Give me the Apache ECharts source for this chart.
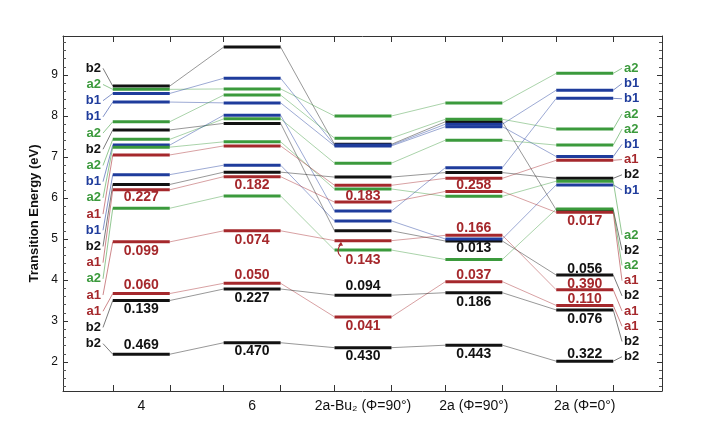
<!DOCTYPE html>
<html><head><meta charset="utf-8">
<script src="https://cdn.jsdelivr.net/npm/echarts@6/dist/echarts.min.js"></script>
<style>html,body{margin:0;padding:0;background:#fff}#c{width:725px;height:434px}</style>
</head><body><div id="c"></div>
<script>
// ---------- data ----------
const columns = ['4', '6', '2a-Bu₂ (Φ=90°)', '2a (Φ=90°)', '2a (Φ=0°)'];
const symmetry = ['b2','a2','b1','b1','a2','b2','a2','b1','a2','a1','b1','b2','a1','a2','a1','a1','b2','b2'];
const e4    = [8.73,8.65,8.55,8.34,7.86,7.66,7.43,7.29,7.24,7.05,6.57,6.33,6.20,5.75,4.93,3.67,3.50,2.19];
const e6    = [9.68,8.66,8.92,8.32,8.51,7.82,7.93,8.02,7.37,7.27,6.80,6.63,6.52,6.05,5.20,3.92,3.78,2.47];
const eBu2  = [7.31,8.00,7.29,7.27,7.46,5.20,6.85,5.68,6.22,6.31,5.44,6.51,5.90,4.73,4.96,3.10,3.63,2.35];
const e2a90 = [7.86,8.32,7.80,7.74,7.92,4.95,7.41,6.74,6.04,6.48,5.00,6.62,6.16,4.50,5.09,3.96,3.69,2.41];
const e2a0  = [5.71,9.04,8.63,7.01,7.68,4.12,7.29,8.43,6.41,6.92,6.32,6.48,5.65,5.73,3.76,3.38,3.27,2.02];
// oscillator strengths (state index -> value)
const f4    = {12:'0.227',14:'0.099',15:'0.060',16:'0.139',17:'0.469'};
const f6    = {12:'0.182',14:'0.074',15:'0.050',16:'0.227',17:'0.470'};
const fBu2  = {12:'0.183',14:'0.143',15:'0.041',16:'0.094',17:'0.430'};
const f2a90 = {12:'0.258',14:'0.166',5:'0.013',15:'0.037',16:'0.186',17:'0.443'};
const f2a0  = {12:'0.017',5:'0.056',14:'0.390',15:'0.110',16:'0.076',17:'0.322'};
const yTickLabels = [2,3,4,5,6,7,8,9];
const rightLabelOrder = [1,2,7,4,6,3,9,11,10, 8,0,13,12,5,14,15,16,17];

// ---------- layout / style ----------
const L = {
  hw: 0.257, xMin: 0.294, xMax: 5.697, yMin: 1.293, yMax: 9.951,
  leftLabelPx: 101, leftLeadPx: 103, rightLabelPx: 624, rightLeadPx: 622,
  leftTop: 9.163, leftStep: 0.395, rightTop: 9.163, rightBottom: 5.098, rightStep: 0.371,
  oscOffset: [
    {12:7,14:9,15:-8,16:9,17:-9},
    {12:8,14:9,15:-8,16:9,17:8},
    {12:-6,14:19,15:9,16:-9,17:8},
    {12:-6,14:-7,5:7,15:-7,16:9,17:9},
    {12:9,5:-6,14:-6,15:-6,16:9,17:-7}
  ]
};
const COLORS = {a1:'#a5282c', a2:'#3b9a3c', b1:'#1f3c9c', b2:'#121212'};
const FONT = '"Liberation Sans", Arial, Helvetica, sans-serif';
const energies = [e4, e6, eBu2, e2a90, e2a0];
const osc = [f4, f6, fBu2, f2a90, f2a0];
const drawOrder = {b2:0, a1:1, b1:2, a2:3};

// ---------- build series data ----------
const barData = [];
const connData = [];
for (let c = 0; c < 5; c++) {
  const idx = symmetry.map((s,i)=>i).sort((a,b)=>drawOrder[symmetry[a]]-drawOrder[symmetry[b]]);
  idx.forEach(s => barData.push([c+1, energies[c][s], s]));
  if (c < 4) symmetry.forEach((sym,s) => connData.push([c+1, energies[c][s], energies[c+1][s], s]));
}
const oscData = [];
osc.forEach((m,c) => Object.keys(m).forEach(k => oscData.push([c+1, energies[c][+k], +k, m[k]])));
const leftLabelData = symmetry.map((sym,s)=>[L.leftTop - s*L.leftStep, e4[s], s]);
const rightLabelData = rightLabelOrder.map((s,i)=>[
  i < 9 ? L.rightTop - i*L.rightStep : L.rightBottom - (i-9)*L.rightStep, e2a0[s], s]);

const xTicks = [];
for (let c = 1; c <= 5; c++) { xTicks.push(c - L.hw, c + L.hw); }
const minorTicks = [];
for (let v = 14; v <= 99; v += 2) { if (v % 10 !== 0) minorTicks.push(v/10); }

const chart = echarts.init(document.getElementById('c'), null, {renderer:'canvas'});
const axLine = {show:true, lineStyle:{color:'#333', width:1}};
const option = {
  backgroundColor: '#ffffff',
  animation: false,
  grid: {left:63, right:63, top:36, bottom:43, show:false},
  xAxis: [
    {type:'value', position:'bottom', min:L.xMin, max:L.xMax, splitLine:{show:false},
     axisLine: axLine,
     axisTick:{show:true, inside:true, length:6, customValues:xTicks, lineStyle:{color:'#333'}},
     axisLabel:{show:true, customValues:[1,2,3,4,5], formatter:v=>columns[Math.round(v)-1],
                fontSize:14, color:'#111', fontFamily:FONT, margin:8}},
    {type:'value', position:'top', min:L.xMin, max:L.xMax, splitLine:{show:false},
     axisLine: axLine,
     axisTick:{show:true, inside:true, length:6, customValues:xTicks, lineStyle:{color:'#333'}},
     axisLabel:{show:false}}
  ],
  yAxis: [
    {type:'value', position:'left', min:L.yMin, max:L.yMax, splitLine:{show:false},
     axisLine: axLine, name:'Transition Energy (eV)', nameLocation:'middle', nameGap:19,
     nameTextStyle:{fontSize:13, fontWeight:'bold', color:'#111', fontFamily:FONT},
     axisTick:{show:true, inside:true, length:5, customValues:yTickLabels, lineStyle:{color:'#333'}},
     axisLabel:{show:true, customValues:yTickLabels, fontSize:12, color:'#111', fontFamily:FONT, margin:5}},
    {type:'value', position:'left', min:L.yMin, max:L.yMax, splitLine:{show:false},
     axisLine:{show:false}, axisTick:{show:true, inside:true, length:3, customValues:minorTicks, lineStyle:{color:'#555'}},
     axisLabel:{show:false}},
    {type:'value', position:'right', min:L.yMin, max:L.yMax, splitLine:{show:false},
     axisLine: axLine, axisTick:{show:true, inside:true, length:5, customValues:yTickLabels, lineStyle:{color:'#333'}},
     axisLabel:{show:false}},
    {type:'value', position:'right', min:L.yMin, max:L.yMax, splitLine:{show:false},
     axisLine:{show:false}, axisTick:{show:true, inside:true, length:3, customValues:minorTicks, lineStyle:{color:'#555'}},
     axisLabel:{show:false}}
  ],
  series: [
    {type:'custom', name:'connectors', data:connData, silent:true, z:1,
     renderItem:(p,api)=>{
       const c=api.value(0), s=api.value(3);
       const a=api.coord([c+L.hw, api.value(1)]), b=api.coord([c+1-L.hw, api.value(2)]);
       return {type:'line', shape:{x1:a[0],y1:a[1],x2:b[0],y2:b[1]},
               style:{stroke:COLORS[symmetry[s]], lineWidth:0.8, opacity:0.55}};
     }},
    {type:'custom', name:'levels', data:barData, silent:true, z:3,
     renderItem:(p,api)=>{
       const c=api.value(0), e=api.value(1), s=api.value(2);
       const a=api.coord([c-L.hw, e]), b=api.coord([c+L.hw, e]);
       return {type:'line', shape:{x1:a[0],y1:a[1],x2:b[0],y2:b[1]},
               style:{stroke:COLORS[symmetry[s]], lineWidth:3}};
     }},
    {type:'custom', name:'osc', data:oscData, silent:true, z:4,
     renderItem:(p,api)=>{
       const c=api.value(0), e=api.value(1), s=api.value(2);
       const d = oscData[p.dataIndex];
       const pt=api.coord([c, e]);
       const off = L.oscOffset[c-1][s];
       const children = [{type:'text', style:{text:d[3], x:pt[0], y:pt[1]+off, align:'center', verticalAlign:'middle',
               font:'bold 14px '+FONT, fill:COLORS[symmetry[s]]}}];
       if (off > 15) {
         const x0 = pt[0]-24, y0 = pt[1]+off-3;
         children.push({type:'bezierCurve', shape:{x1:x0+2,y1:y0,x2:x0+2,y2:pt[1]+3,cpx1:x0-4,cpy1:y0-5},
           style:{stroke:COLORS.a1, lineWidth:1.2, fill:null}});
         children.push({type:'polygon', shape:{points:[[x0+2,pt[1]+1],[x0-1,pt[1]+5],[x0+4,pt[1]+5]]}, style:{fill:COLORS.a1}});
       }
       return {type:'group', children};
     }},
    {type:'custom', name:'leftLabels', data:leftLabelData, silent:true, z:4,
     renderItem:(p,api)=>{
       const ly=api.value(0), e=api.value(1), s=api.value(2);
       const lp=api.coord([1, ly]), bp=api.coord([1-L.hw, e]);
       return {type:'group', children:[
         {type:'line', shape:{x1:L.leftLeadPx,y1:lp[1],x2:bp[0],y2:bp[1]}, style:{stroke:COLORS[symmetry[s]], lineWidth:0.8, opacity:0.7}},
         {type:'text', style:{text:symmetry[s], x:L.leftLabelPx, y:lp[1], align:'right', verticalAlign:'middle',
           font:'bold 13px '+FONT, fill:COLORS[symmetry[s]]}}
       ]};
     }},
    {type:'custom', name:'rightLabels', data:rightLabelData, silent:true, z:4,
     renderItem:(p,api)=>{
       const ly=api.value(0), e=api.value(1), s=api.value(2);
       const lp=api.coord([5, ly]), bp=api.coord([5+L.hw, e]);
       return {type:'group', children:[
         {type:'line', shape:{x1:bp[0],y1:bp[1],x2:L.rightLeadPx,y2:lp[1]}, style:{stroke:COLORS[symmetry[s]], lineWidth:0.8, opacity:0.7}},
         {type:'text', style:{text:symmetry[s], x:L.rightLabelPx, y:lp[1], align:'left', verticalAlign:'middle',
           font:'bold 13px '+FONT, fill:COLORS[symmetry[s]]}}
       ]};
     }}
  ]
};
chart.setOption(option);
</script></body></html>
